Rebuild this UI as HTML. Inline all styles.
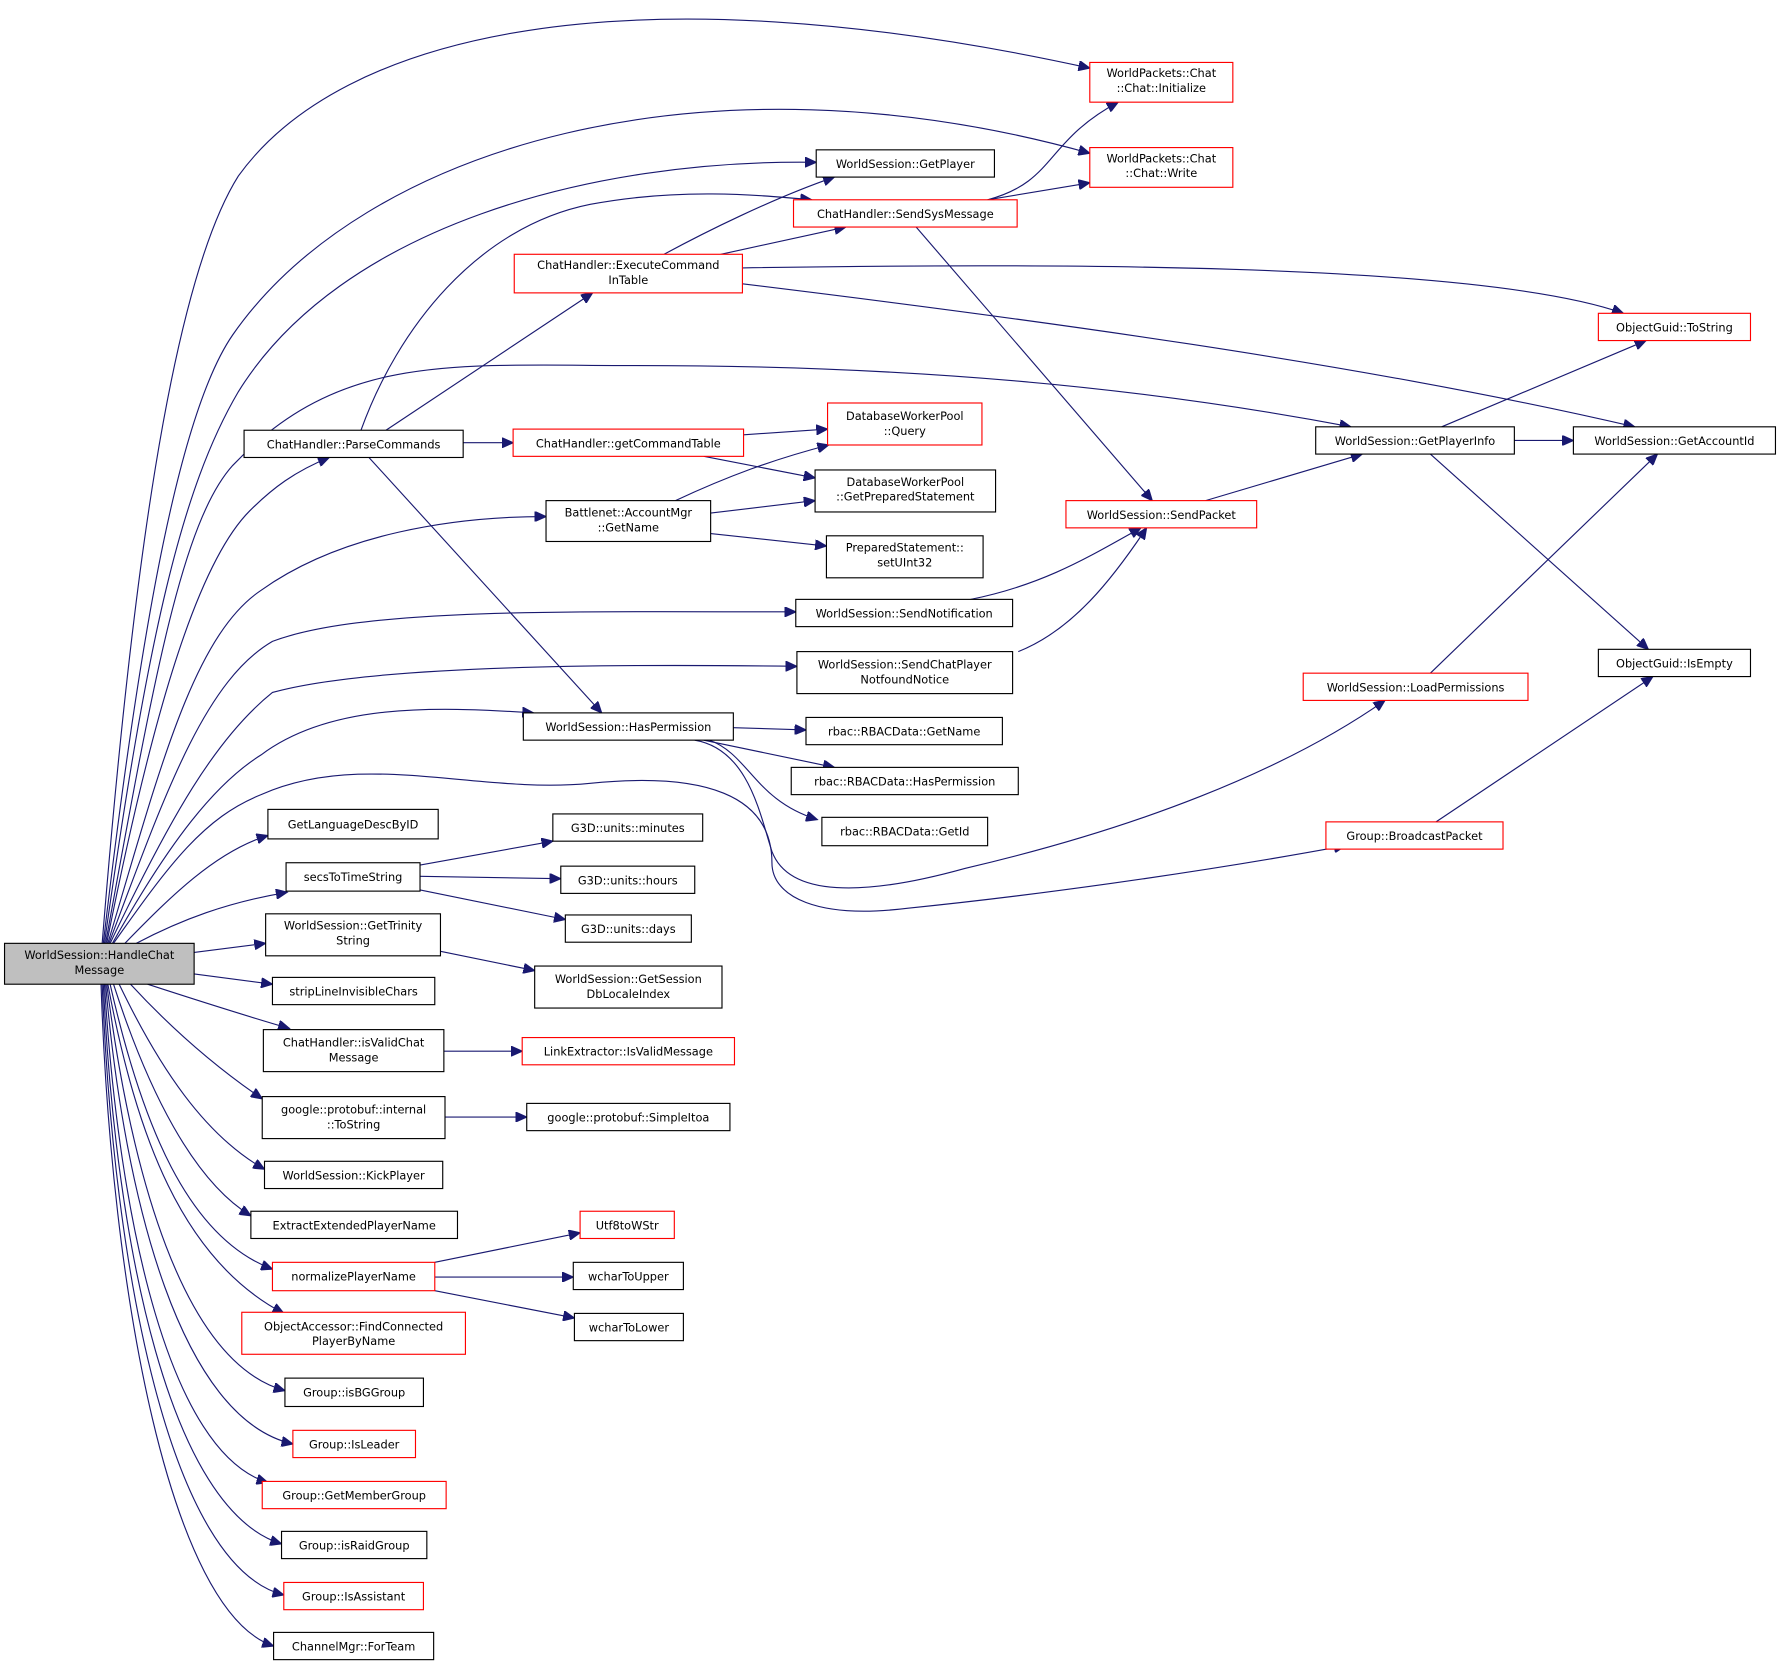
<!DOCTYPE html>
<html><head><meta charset="utf-8"><style>
html,body{margin:0;padding:0;background:#fff;}
svg{display:block}
text{font-family:"DejaVu Sans","Liberation Sans",sans-serif;font-size:10px;fill:#000;text-anchor:middle}
.b{fill:#fff;stroke:#000;stroke-width:1}
.r{fill:#fff;stroke:#ff0000;stroke-width:1}
.g{fill:#bfbfbf;stroke:#000;stroke-width:1}
path{fill:none;stroke:#191970;stroke-width:1;marker-end:url(#a)}
</style></head><body>
<svg width="1780" height="1666" viewBox="0 0 1568 1467.6" preserveAspectRatio="none" xmlns="http://www.w3.org/2000/svg">
<defs><marker id="a" markerUnits="userSpaceOnUse" markerWidth="11" markerHeight="9" refX="10" refY="4.5" orient="auto"><polygon points="0,0 10,4.5 0,9" fill="#191970" stroke="#191970"/></marker></defs>

<!-- edges from HandleChat -->
<path d="M90,831 C115,520 150,250 210,155 C300,30 550,-30 960,60"/>
<path d="M91,831 C125,540 160,360 205,295 C320,130 620,40 960,135"/>
<path d="M92,831 C130,560 160,430 210,345 C300,200 520,140 719,143"/>
<path d="M93,831 C135,600 160,460 205,410 C300,310 400,322 560,322 C800,322 1000,340 1190,376"/>
<path d="M94,831 C130,650 170,500 220,450 C240,430 260,415 290,403"/>
<path d="M95,831 C140,680 170,560 230,520 C300,470 400,455 481,455"/>
<path d="M96,831 C145,700 180,600 240,565 C320,535 500,539 701,539"/>
<path d="M97,831 C150,720 190,650 240,610 C330,585 550,585 702,587"/>
<path d="M99,831 C150,740 190,690 230,665 C290,620 380,622 470,628"/>
<path d="M100,831 C150,760 180,720 230,700 C320,660 420,700 520,690 C620,680 680,700 680,760 C680,790 720,810 800,800 C900,790 1050,770 1185,745"/>
<path d="M110,831 C150,790 190,750 236,736"/>
<path d="M120,831 C160,810 200,795 253,786"/>
<path d="M171,839 L234,831"/>
<path d="M171,858 L240,867"/>
<path d="M130,867 C170,880 210,893 255,906"/>
<path d="M115,867 C150,905 190,940 231,968"/>
<path d="M105,867 C140,940 180,1000 233,1030"/>
<path d="M100,867 C130,960 170,1040 221,1071"/>
<path d="M97,867 C125,990 165,1090 240,1118"/>
<path d="M95,867 C120,1000 160,1110 250,1157"/>
<path d="M94,867 C115,1030 160,1200 251,1225"/>
<path d="M93,867 C110,1060 160,1250 258,1272"/>
<path d="M92,867 C105,1080 150,1280 236,1306"/>
<path d="M91,867 C102,1100 150,1330 248,1360"/>
<path d="M90,867 C100,1120 150,1380 250,1405"/>
<path d="M89,867 C98,1140 150,1420 241,1450"/>

<!-- other edges -->
<path d="M340,379 L522,258"/>
<path d="M318,379 C350,290 420,200 520,180 C600,165 670,172 715,176"/>
<path d="M408,390 L452,390"/>
<path d="M325,403 L530,628"/>
<path d="M585,224 C620,205 680,175 735,156"/>
<path d="M635,224 L745,200"/>
<path d="M654,236 C900,232 1300,230 1430,276"/>
<path d="M654,250 C900,280 1200,320 1440,376"/>
<path d="M870,176 C930,160 920,125 985,90"/>
<path d="M870,176 L960,161"/>
<path d="M807,200 L1015,441"/>
<path d="M655,383 L729,378"/>
<path d="M620,402 L718,421"/>
<path d="M595,441 C640,420 680,405 730,392"/>
<path d="M626,452 L718,441"/>
<path d="M626,470 L728,481"/>
<path d="M855,528 C920,515 960,490 1005,465"/>
<path d="M897,574 C945,555 980,510 1010,465"/>
<path d="M1062,441 L1200,400"/>
<path d="M1270,376 L1450,300"/>
<path d="M1334,388 L1386,388"/>
<path d="M1260,400 L1452,572"/>
<path d="M1260,593 L1460,400"/>
<path d="M1265,724 L1456,596"/>
<path d="M646,641 L710,643"/>
<path d="M620,652 L735,676"/>
<path d="M625,652 C660,665 665,705 720,722"/>
<path d="M612,652 C660,660 670,720 680,750 C695,790 760,790 850,765 C1000,730 1130,680 1220,617"/>
<path d="M370,762 L487,741"/>
<path d="M370,772 L494,774"/>
<path d="M370,784 L498,810"/>
<path d="M388,838 L471,855"/>
<path d="M391,926 L460,926"/>
<path d="M392,984 L464,984"/>
<path d="M383,1112 L511,1086"/>
<path d="M383,1125 L505,1125"/>
<path d="M383,1137 L506,1161"/>

<!-- nodes -->
<rect class="g" x="4" y="831" width="167" height="36"/><text x="87.5" y="845">WorldSession::HandleChat</text><text x="87.5" y="858">Message</text>
<rect class="b" x="215" y="379" width="193" height="24"/><text x="311.5" y="395">ChatHandler::ParseCommands</text>
<rect class="r" x="453" y="224" width="201" height="34"/><text x="553.5" y="237">ChatHandler::ExecuteCommand</text><text x="553.5" y="250">InTable</text>
<rect class="r" x="452" y="378" width="203" height="24"/><text x="553.5" y="394">ChatHandler::getCommandTable</text>
<rect class="b" x="719" y="132" width="157" height="24"/><text x="797.5" y="148">WorldSession::GetPlayer</text>
<rect class="r" x="699" y="176" width="197" height="24"/><text x="797.5" y="192">ChatHandler::SendSysMessage</text>
<rect class="r" x="960" y="55" width="126" height="35"/><text x="1023" y="68">WorldPackets::Chat</text><text x="1023" y="81">::Chat::Initialize</text>
<rect class="r" x="960" y="130" width="126" height="35"/><text x="1023" y="143">WorldPackets::Chat</text><text x="1023" y="156">::Chat::Write</text>
<rect class="r" x="729" y="355" width="136" height="37"/><text x="797" y="370">DatabaseWorkerPool</text><text x="797" y="383">::Query</text>
<rect class="b" x="718" y="414" width="159" height="37"/><text x="797.5" y="428">DatabaseWorkerPool</text><text x="797.5" y="441">::GetPreparedStatement</text>
<rect class="b" x="481" y="441" width="145" height="36"/><text x="553.5" y="455">Battlenet::AccountMgr</text><text x="553.5" y="468">::GetName</text>
<rect class="b" x="728" y="472" width="138" height="37"/><text x="797" y="486">PreparedStatement::</text><text x="797" y="499">setUInt32</text>
<rect class="b" x="701" y="528" width="191" height="24"/><text x="796.5" y="544">WorldSession::SendNotification</text>
<rect class="b" x="702" y="574" width="190" height="37"/><text x="797" y="589">WorldSession::SendChatPlayer</text><text x="797" y="602">NotfoundNotice</text>
<rect class="b" x="461" y="628" width="185" height="24"/><text x="553.5" y="644">WorldSession::HasPermission</text>
<rect class="b" x="710" y="632" width="173" height="24"/><text x="796.5" y="648">rbac::RBACData::GetName</text>
<rect class="b" x="697" y="676" width="200" height="24"/><text x="797" y="692">rbac::RBACData::HasPermission</text>
<rect class="b" x="724" y="720" width="146" height="25"/><text x="797" y="736">rbac::RBACData::GetId</text>
<rect class="b" x="236" y="713" width="150" height="26"/><text x="311" y="730">GetLanguageDescByID</text>
<rect class="b" x="487" y="717" width="132" height="24"/><text x="553" y="733">G3D::units::minutes</text>
<rect class="b" x="252" y="760" width="118" height="25"/><text x="311" y="776">secsToTimeString</text>
<rect class="b" x="494" y="763" width="118" height="24"/><text x="553" y="779">G3D::units::hours</text>
<rect class="b" x="498" y="806" width="111" height="24"/><text x="553.5" y="822">G3D::units::days</text>
<rect class="b" x="234" y="805" width="154" height="37"/><text x="311" y="819">WorldSession::GetTrinity</text><text x="311" y="832">String</text>
<rect class="b" x="471" y="851" width="165" height="37"/><text x="553.5" y="866">WorldSession::GetSession</text><text x="553.5" y="879">DbLocaleIndex</text>
<rect class="b" x="240" y="861" width="143" height="24"/><text x="311.5" y="877">stripLineInvisibleChars</text>
<rect class="b" x="232" y="907" width="159" height="37"/><text x="311.5" y="922">ChatHandler::isValidChat</text><text x="311.5" y="935">Message</text>
<rect class="r" x="460" y="914" width="187" height="24"/><text x="553.5" y="930">LinkExtractor::IsValidMessage</text>
<rect class="b" x="231" y="966" width="161" height="37"/><text x="311.5" y="981">google::protobuf::internal</text><text x="311.5" y="994">::ToString</text>
<rect class="b" x="464" y="972" width="179" height="24"/><text x="553.5" y="988">google::protobuf::SimpleItoa</text>
<rect class="b" x="233" y="1023" width="157" height="24"/><text x="311.5" y="1039">WorldSession::KickPlayer</text>
<rect class="b" x="221" y="1067" width="182" height="24"/><text x="312" y="1083">ExtractExtendedPlayerName</text>
<rect class="r" x="240" y="1112" width="143" height="25"/><text x="311.5" y="1128">normalizePlayerName</text>
<rect class="r" x="511" y="1067" width="83" height="24"/><text x="552.5" y="1083">Utf8toWStr</text>
<rect class="b" x="505" y="1112" width="97" height="24"/><text x="553.5" y="1128">wcharToUpper</text>
<rect class="b" x="506" y="1157" width="96" height="24"/><text x="554" y="1173">wcharToLower</text>
<rect class="r" x="213" y="1156" width="197" height="37"/><text x="311.5" y="1172">ObjectAccessor::FindConnected</text><text x="311.5" y="1185">PlayerByName</text>
<rect class="b" x="251" y="1214" width="122" height="25"/><text x="312" y="1230">Group::isBGGroup</text>
<rect class="r" x="258" y="1260" width="108" height="24"/><text x="312" y="1276">Group::IsLeader</text>
<rect class="r" x="231" y="1305" width="162" height="24"/><text x="312" y="1321">Group::GetMemberGroup</text>
<rect class="b" x="248" y="1349" width="128" height="24"/><text x="312" y="1365">Group::isRaidGroup</text>
<rect class="r" x="250" y="1394" width="123" height="24"/><text x="311.5" y="1410">Group::IsAssistant</text>
<rect class="b" x="241" y="1438" width="141" height="24"/><text x="311.5" y="1454">ChannelMgr::ForTeam</text>
<rect class="r" x="939" y="441" width="168" height="24"/><text x="1023" y="457">WorldSession::SendPacket</text>
<rect class="b" x="1159" y="376" width="175" height="24"/><text x="1246.5" y="392">WorldSession::GetPlayerInfo</text>
<rect class="b" x="1386" y="376" width="178" height="24"/><text x="1475" y="392">WorldSession::GetAccountId</text>
<rect class="r" x="1408" y="276" width="134" height="24"/><text x="1475" y="292">ObjectGuid::ToString</text>
<rect class="b" x="1408" y="572" width="134" height="24"/><text x="1475" y="588">ObjectGuid::IsEmpty</text>
<rect class="r" x="1148" y="593" width="198" height="24"/><text x="1247" y="609">WorldSession::LoadPermissions</text>
<rect class="r" x="1168" y="724" width="156" height="24"/><text x="1246" y="740">Group::BroadcastPacket</text>
</svg>
</body></html>
